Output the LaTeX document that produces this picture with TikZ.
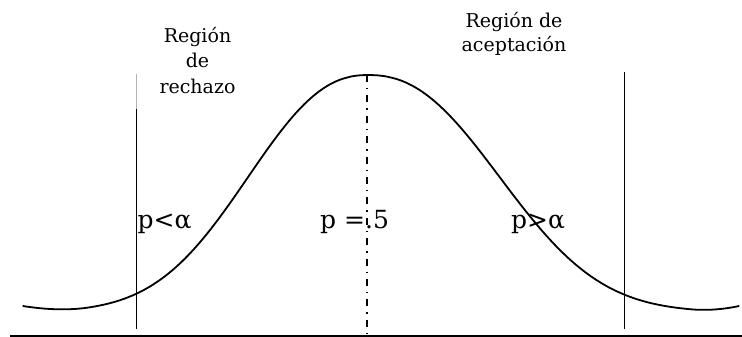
\documentclass[tikz,border=0pt]{standalone}
\usepackage{fontspec}
\setmainfont{DejaVu Serif}
\begin{document}
\begin{tikzpicture}[x=1pt,y=-1pt,
  line/.style={line width=1.8pt,black},
  title/.style={inner sep=0pt,anchor=base,font=\fontsize{19}{24}\selectfont},
  big/.style={inner sep=0pt,anchor=base west,font=\fontsize{25}{30}\selectfont}]
\useasboundingbox (0,0) rectangle (742,337);
% base line
\draw[line width=2pt] (10,335.5) -- (742,335.5);
% centre dash-dot line
\draw[line width=1.6pt,dash pattern=on 7pt off 6pt on 1.4pt off 6pt] (367,75) -- (367,337);
% critical lines
\draw[gray!60,line width=1pt] (136.5,74) -- (136.5,109);
\draw[line] (136.5,109) -- (136.5,329);
\draw[line] (624.5,72) -- (624.5,329);
% curve
\draw[line width=1.8pt,line join=round] plot[domain=22.7:368,samples=120,variable=\x]
  (\x,{312.1-237*exp(-pow((368-\x)/154,2.3))-0.00135*pow(max(368-\x-280,0),2)})
  -- plot[domain=368:739.3,samples=120,variable=\x]
  (\x,{312.1-237*exp(-pow((\x-368)/169,2.3))-0.0024*pow(max(\x-368-323,0),2)});
% titles
\node[title] (r1) at (197.5,43) {Región};
\node[title] (r2) at (197.5,68) {de};
\node[title] (r3) at (197.5,93) {rechazo};
\node[title] (a1) at (514,28) {Región de};
\node[title] (a2) at (514,52) {aceptación};
% labels
\node[big] (pl) at (137.5,228) {p<α};
\node[big] (pm) at (320,228) {p =.5};
\node[big] (pr) at (511,228) {p>α};
\end{tikzpicture}
\end{document}
